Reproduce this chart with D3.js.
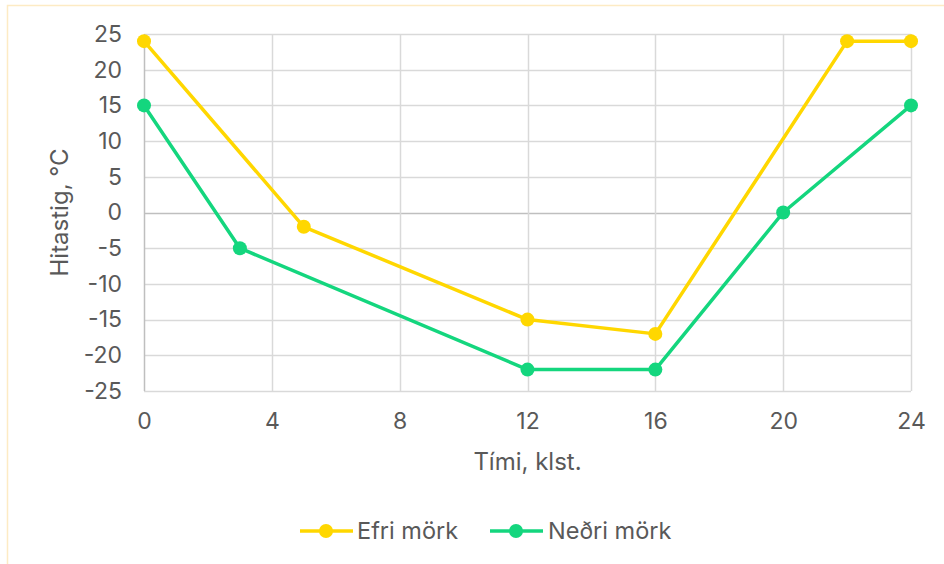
<!DOCTYPE html>
<html>
<head>
<meta charset="utf-8">
<script src="https://cdn.jsdelivr.net/npm/d3@7"></script>
<style>
  html, body { margin: 0; padding: 0; background: #ffffff; }
  svg { display: block; font-family: Inter, "Noto Sans", sans-serif; }
</style>
</head>
<body>
<svg id="chart" width="944" height="564"></svg>
<script>
// Hourly temperature limits over a day
const upperHours = [0, 5, 12, 16, 22, 24];
const upperTemps = [24, -2, -15, -17, 24, 24];
const lowerHours = [0, 3, 12, 16, 20, 24];
const lowerTemps = [15, -5, -22, -22, 0, 15];
const xTicks = [0, 4, 8, 12, 16, 20, 24];
const yTicks = [25, 20, 15, 10, 5, 0, -5, -10, -15, -20, -25];
const seriesNames = ["Efri mörk", "Neðri mörk"];
const seriesColors = ["#ffd700", "#14d67e"];

const svg = d3.select("#chart");
const plotLeft = 144, plotRight = 911, plotTop = 34, plotBottom = 391;

const x = d3.scaleLinear().domain([0, 24]).range([plotLeft, plotRight]);
const y = d3.scaleLinear().domain([-25, 25]).range([plotBottom, plotTop]);

// outer frame
svg.append("rect")
  .attr("x", 7.5).attr("y", 5.5)
  .attr("width", 1000).attr("height", 1000)
  .attr("fill", "none").attr("stroke", "#fdebc4").attr("stroke-width", 1.5);

// gridlines
const grid = svg.append("g");
grid.selectAll("line.h").data(yTicks).join("line")
  .attr("x1", plotLeft).attr("x2", plotRight)
  .attr("y1", d => Math.round(y(d)) + 0.5).attr("y2", d => Math.round(y(d)) + 0.5)
  .attr("stroke", d => d === 0 ? "#bfbfbf" : "#d9d9d9").attr("stroke-width", 1.5);
grid.selectAll("line.v").data(xTicks).join("line")
  .attr("y1", plotTop).attr("y2", plotBottom)
  .attr("x1", d => Math.round(x(d)) + 0.5).attr("x2", d => Math.round(x(d)) + 0.5)
  .attr("stroke", d => d === 0 ? "#bfbfbf" : "#d9d9d9").attr("stroke-width", 1.5);

// axes (labels only)
const yAxis = svg.append("g")
  .attr("transform", `translate(${plotLeft},0)`)
  .call(d3.axisLeft(y).tickValues(yTicks).tickSize(0).tickPadding(22)
    .tickFormat(d => d < 0 ? "-" + Math.abs(d) : String(d)));
const xAxis = svg.append("g")
  .attr("transform", `translate(0,${plotBottom})`)
  .call(d3.axisBottom(x).tickValues(xTicks).tickSize(0).tickPadding(22));
[yAxis, xAxis].forEach(a => {
  a.select(".domain").remove();
  a.selectAll("text").attr("fill", "#595959").style("font-size", "23px")
    .style("font-family", "Inter, 'Noto Sans', sans-serif");
});

// axis titles
svg.append("text")
  .attr("x", (plotLeft + plotRight) / 2).attr("y", 470)
  .attr("text-anchor", "middle").attr("fill", "#595959")
  .style("font-size", "24px").text("Tími, klst.");
svg.append("text")
  .attr("transform", `translate(68,${(plotTop + plotBottom) / 2}) rotate(-90)`)
  .attr("text-anchor", "middle").attr("fill", "#595959")
  .style("font-size", "24px").text("Hitastig, °C");

// series
const series = [
  { hours: upperHours, temps: upperTemps },
  { hours: lowerHours, temps: lowerTemps }
];
const line = d3.line().x(d => x(d[0])).y(d => y(d[1]));
series.forEach((s, i) => {
  const pts = s.hours.map((h, j) => [h, s.temps[j]]);
  svg.append("path").datum(pts)
    .attr("d", line).attr("fill", "none")
    .attr("stroke", seriesColors[i]).attr("stroke-width", 3.5)
    .attr("stroke-linejoin", "round");
  svg.selectAll(null).data(pts).join("circle")
    .attr("cx", d => x(d[0])).attr("cy", d => y(d[1]))
    .attr("r", 7).attr("fill", seriesColors[i]);
});

// legend
const legendItems = [
  { x0: 300, tx: 357 },
  { x0: 490, tx: 548 }
];
legendItems.forEach((it, i) => {
  const g = svg.append("g");
  g.append("line").attr("x1", it.x0).attr("x2", it.x0 + 53)
    .attr("y1", 531).attr("y2", 531)
    .attr("stroke", seriesColors[i]).attr("stroke-width", 3.5);
  g.append("circle").attr("cx", it.x0 + 26).attr("cy", 531).attr("r", 7)
    .attr("fill", seriesColors[i]);
  g.append("text").attr("x", it.tx).attr("y", 539)
    .attr("fill", "#595959").style("font-size", "23.5px").text(seriesNames[i]);
});
</script>
</body>
</html>
